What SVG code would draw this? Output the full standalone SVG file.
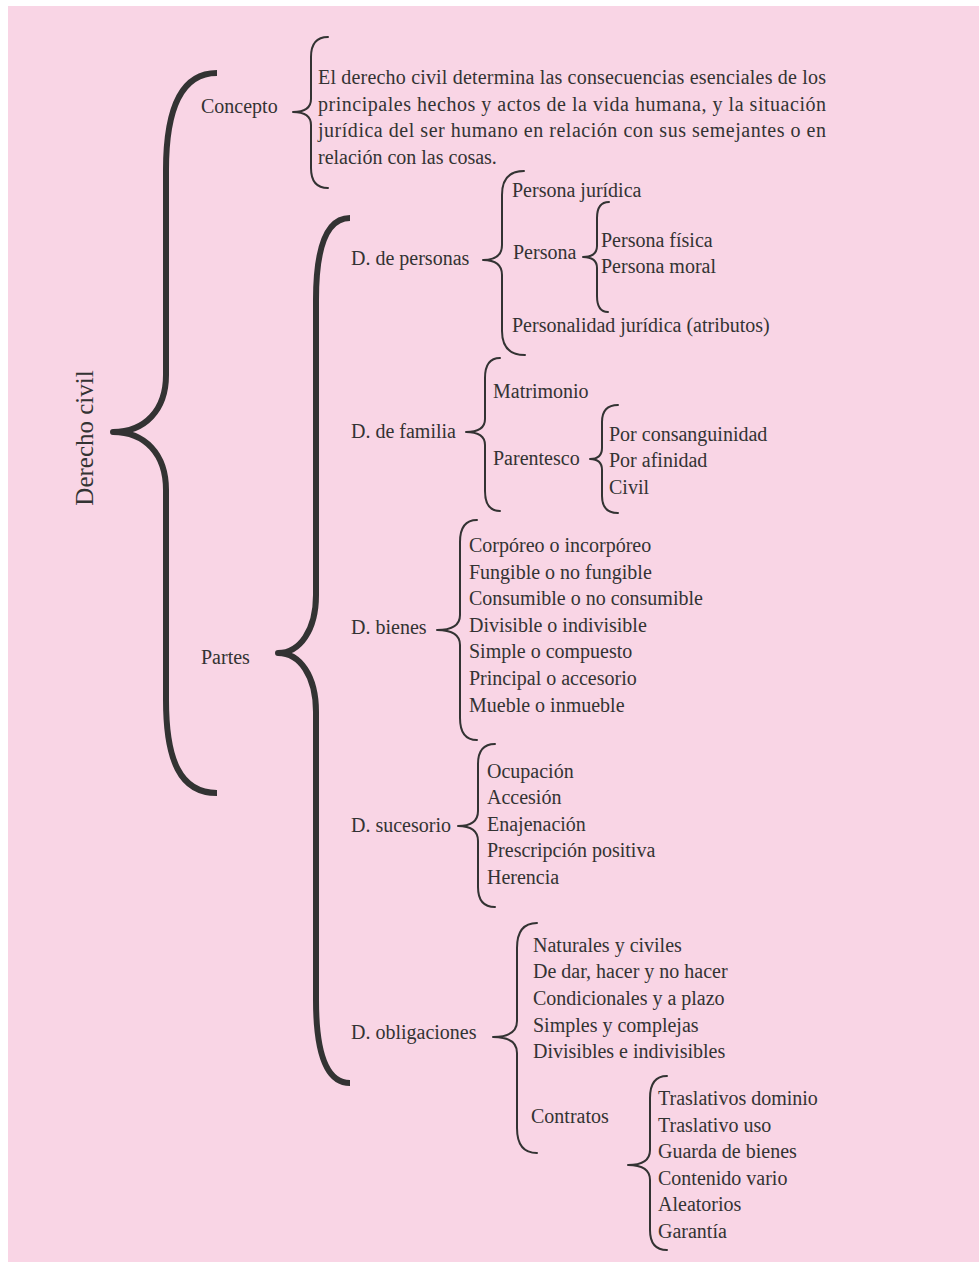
<svg xmlns="http://www.w3.org/2000/svg" width="979" height="1268" viewBox="0 0 979 1268">
<style>
text{font-family:"Liberation Serif","Times New Roman",serif;font-size:20px;fill:#333}
.b{fill:none;stroke:#333;stroke-width:2;stroke-linecap:round;stroke-linejoin:round}
.B{fill:none;stroke:#333;stroke-width:6;stroke-linejoin:round}
</style>
<rect x="8" y="6" width="971" height="1256" fill="#f9d5e5"/>
<g id="connectors">
<path class="B" d="M217,73 C180,73 166,110 166,170 L166,375 C166,410 145,432 113,432 C145,432 166,454 166,490 L166,700 C166,760 180,793 217,793"/>
<path class="B" d="M350,218 C325,218 316,250 316,300 L316,595 C316,630 300,653 278,653 C300,653 316,676 316,712 L316,1000 C316,1050 325,1083 350,1083"/>
<path class="b" d="M328,37 Q311,37 311,57 L311,99 Q311,112 293,112 Q311,112 311,125 L311,168 Q311,188 328,188"/>
<path class="b" d="M524,171 Q502,171 502,195 L502,245 Q502,260 483,260 Q502,260 502,275 L502,331 Q502,355 525,355"/>
<path class="b" d="M609,202 Q597,202 597,218 L597,246 Q597,257 583,257 Q597,257 597,268 L597,296 Q597,312 608,312"/>
<path class="b" d="M500,358 Q485,358 485,378 L485,419 Q485,432 466,432 Q485,432 485,445 L485,491 Q485,511 500,511"/>
<path class="b" d="M618,405 Q602,405 602,422 L602,448 Q602,459 590,459 Q602,459 602,470 L602,496 Q602,513 618,513"/>
<path class="b" d="M477,520 Q460,520 460,542 L460,615 Q460,630 437,630 Q460,630 460,645 L460,718 Q460,740 477,740"/>
<path class="b" d="M495,744 Q478,744 478,764 L478,811 Q478,826 458,826 Q478,826 478,841 L478,887 Q478,907 495,907"/>
<path class="b" d="M537,923 Q517,923 517,948 L517,1021 Q517,1037 493,1037 Q517,1037 517,1053 L517,1128 Q517,1153 537,1153"/>
<path class="b" d="M667,1076 Q650,1076 650,1098 L650,1150 Q650,1165 628,1165 Q650,1165 650,1180 L650,1230 Q650,1250 667,1250"/>
</g>
<g id="root"><text transform="translate(93,438) rotate(-90)" text-anchor="middle" style="font-size:25px">Derecho civil</text></g>
<g id="concepto"><text x="201" y="112.5">Concepto</text></g>
<g id="concepto-texto">
<text x="318" y="84" textLength="508" lengthAdjust="spacing">El derecho civil determina las consecuencias esenciales de los</text>
<text x="318" y="110.5" textLength="508" lengthAdjust="spacing">principales hechos y actos de la vida humana, y la situación</text>
<text x="318" y="137" textLength="508" lengthAdjust="spacing">jurídica del ser humano en relación con sus semejantes o en</text>
<text x="318" y="163.5">relación con las cosas.</text>
</g>
<g id="partes"><text x="201" y="663.5">Partes</text></g>
<g id="d-personas"><text x="351" y="265">D. de personas</text></g>
<g id="persona-juridica"><text x="512" y="197">Persona jurídica</text></g>
<g id="persona"><text x="513" y="258.5">Persona</text></g>
<g id="persona-fisica"><text x="601" y="247">Persona física</text></g>
<g id="persona-moral"><text x="601" y="273">Persona moral</text></g>
<g id="personalidad"><text x="512" y="331.5">Personalidad jurídica (atributos)</text></g>
<g id="d-familia"><text x="351" y="437.5">D. de familia</text></g>
<g id="matrimonio"><text x="493" y="397.5">Matrimonio</text></g>
<g id="parentesco"><text x="493" y="464.5">Parentesco</text></g>
<g id="parentesco-tipos">
<text x="609" y="440.5">Por consanguinidad</text>
<text x="609" y="467">Por afinidad</text>
<text x="609" y="493.5">Civil</text>
</g>
<g id="d-bienes"><text x="351" y="633.5">D. bienes</text></g>
<g id="bienes-tipos">
<text x="469" y="552">Corpóreo o incorpóreo</text>
<text x="469" y="578.5">Fungible o no fungible</text>
<text x="469" y="605">Consumible o no consumible</text>
<text x="469" y="631.7">Divisible o indivisible</text>
<text x="469" y="658.3">Simple o compuesto</text>
<text x="469" y="685">Principal o accesorio</text>
<text x="469" y="711.7">Mueble o inmueble</text>
</g>
<g id="d-sucesorio"><text x="351" y="831.5">D. sucesorio</text></g>
<g id="sucesorio-tipos">
<text x="487" y="777.5">Ocupación</text>
<text x="487" y="804">Accesión</text>
<text x="487" y="830.7">Enajenación</text>
<text x="487" y="857.3">Prescripción positiva</text>
<text x="487" y="884">Herencia</text>
</g>
<g id="d-obligaciones"><text x="351" y="1039">D. obligaciones</text></g>
<g id="obligaciones-tipos">
<text x="533" y="951.7">Naturales y civiles</text>
<text x="533" y="978.3">De dar, hacer y no hacer</text>
<text x="533" y="1005">Condicionales y a plazo</text>
<text x="533" y="1031.7">Simples y complejas</text>
<text x="533" y="1058.3">Divisibles e indivisibles</text>
</g>
<g id="contratos"><text x="531" y="1122.7">Contratos</text></g>
<g id="contratos-tipos">
<text x="658" y="1105">Traslativos dominio</text>
<text x="658" y="1131.6">Traslativo uso</text>
<text x="658" y="1158.2">Guarda de bienes</text>
<text x="658" y="1184.8">Contenido vario</text>
<text x="658" y="1211.4">Aleatorios</text>
<text x="658" y="1238">Garantía</text>
</g>
</svg>
